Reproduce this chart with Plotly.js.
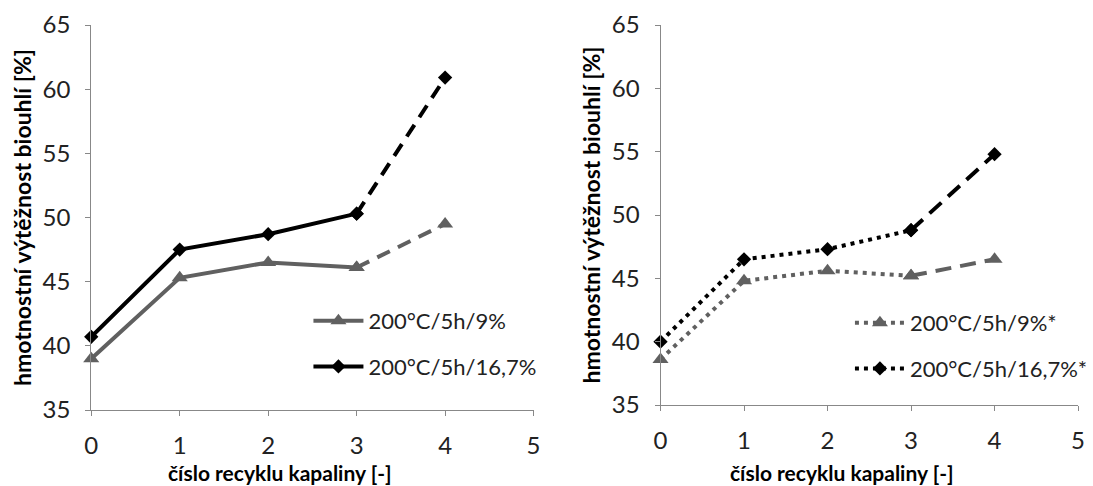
<!DOCTYPE html>
<html>
<head>
<meta charset="utf-8">
<script src="https://cdn.plot.ly/plotly-3.0.1.min.js"></script>
<style>html,body{margin:0;padding:0;background:#fff;}#chart{width:1093px;height:486px;}</style>
</head>
<body>
<div id="chart"></div>
<script>
// ---- data ----
const cycles = [0, 1, 2, 3, 4];
const xTicks = [0, 1, 2, 3, 4, 5];
const yTicks = [35, 40, 45, 50, 55, 60, 65];
const left9 = [39.0, 45.3, 46.5, 46.1, 49.5];
const left167 = [40.7, 47.5, 48.7, 50.3, 60.9];
const right9 = [38.6, 44.8, 45.6, 45.2, 46.5];
const right167 = [40.0, 46.5, 47.3, 48.8, 54.8];
const namesLeft = ["200°C/5h/9%", "200°C/5h/16,7%"];
const namesRight = ["200°C/5h/9%*", "200°C/5h/16,7%*"];
const xTitle = "číslo recyklu kapaliny [-]";
const yTitle = "hmotnostní výtěžnost biouhlí [%]";

const GRAY = "#606060", BLACK = "#000000";
const FONT = "Lato, 'Open Sans', sans-serif";

function part(x, y, name, color, sym, msize, dash, width, xa, ya, leg, show, group) {
  return {
    x: x, y: y, name: name, type: "scatter", mode: "lines+markers",
    line: {color: color, width: width, dash: dash},
    marker: {symbol: sym, size: msize, color: color},
    xaxis: xa, yaxis: ya, legend: leg, showlegend: show, legendgroup: group,
    cliponaxis: false, hoverinfo: "x+y"
  };
}
const s = (a) => a.slice(0, 4), e = (a) => a.slice(3, 5);

const traces = [
  part(s(cycles), s(left9), namesLeft[0], GRAY, "triangle-up", 14, "solid", 4, "x", "y", "legend", true, "l1"),
  part(e(cycles), e(left9), namesLeft[0], GRAY, "triangle-up", 14, "14px,9px", 4, "x", "y", "legend", false, "l1"),
  part(s(cycles), s(left167), namesLeft[1], BLACK, "diamond", 11, "solid", 4, "x", "y", "legend", true, "l2"),
  part(e(cycles), e(left167), namesLeft[1], BLACK, "diamond", 11, "14px,9px", 4, "x", "y", "legend", false, "l2"),
  part(s(cycles), s(right9), namesRight[0], GRAY, "triangle-up", 14, "4px,5px", 4, "x2", "y2", "legend2", true, "r1"),
  part(e(cycles), e(right9), namesRight[0], GRAY, "triangle-up", 14, "16px,9px", 4, "x2", "y2", "legend2", false, "r1"),
  part(s(cycles), s(right167), namesRight[1], BLACK, "diamond", 11, "4px,5px", 4, "x2", "y2", "legend2", true, "r2"),
  part(e(cycles), e(right167), namesRight[1], BLACK, "diamond", 11, "16px,9px", 4, "x2", "y2", "legend2", false, "r2")
];

const H = 486, W = 1093;
function xaxis(domain, anchor) {
  return {
    domain: domain, anchor: anchor, range: [0, 5], tickvals: xTicks, ticktext: xTicks.map(String),
    showgrid: false, zeroline: false, showline: true, linecolor: "#888888", linewidth: 1,
    ticks: "outside", ticklen: 5, tickcolor: "#888888", ticklabelstandoff: 9,
    tickfont: {family: FONT, size: 24, color: "#222"}, fixedrange: true
  };
}
function yaxis(domain, anchor, standoff) {
  return {
    domain: domain, anchor: anchor, range: [35, 65], tickvals: yTicks, ticktext: yTicks.map(String),
    showgrid: false, zeroline: false, showline: true, linecolor: "#888888", linewidth: 1,
    ticks: "outside", ticklen: 5, tickcolor: "#888888", ticklabelstandoff: 10,
    tickfont: {family: FONT, size: 24, color: "#222"}, fixedrange: true,
    title: {text: yTitle, font: {family: FONT, size: 23, color: "#000", weight: "bold"}, standoff: standoff}
  };
}
function legend(x, ytop) {
  return {
    x: x / W, y: 1 - ytop / H, xanchor: "left", yanchor: "top",
    bgcolor: "rgba(0,0,0,0)", font: {family: FONT, size: 22, color: "#222"},
    traceorder: "grouped", tracegroupgap: 14, itemwidth: 50
  };
}

const layout = {
  width: W, height: H, margin: {l: 0, r: 0, t: 0, b: 0},
  paper_bgcolor: "#fff", plot_bgcolor: "#fff", showlegend: true,
  xaxis: xaxis([92 / W, 538 / W], "y"),
  yaxis: yaxis([1 - 410 / H, 1 - 25 / H], "x", 4),
  xaxis2: xaxis([666 / W, 1087 / W], "y2"),
  yaxis2: yaxis([1 - 405 / H, 1 - 25 / H], "x2", 4),
  legend: legend(311, 300),
  legend2: legend(857, 302),
  annotations: [
    {text: xTitle, xref: "paper", yref: "paper", x: 282 / W, y: 0, xanchor: "center", yanchor: "bottom",
     borderpad: 0, showarrow: false, font: {family: FONT, size: 21, color: "#000", weight: "bold"}},
    {text: xTitle, xref: "paper", yref: "paper", x: 849 / W, y: 0, xanchor: "center", yanchor: "bottom",
     borderpad: 0, showarrow: false, font: {family: FONT, size: 21, color: "#000", weight: "bold"}}
  ]
};

Plotly.newPlot("chart", traces, layout, {displayModeBar: false, staticPlot: true});
</script>
</body>
</html>
